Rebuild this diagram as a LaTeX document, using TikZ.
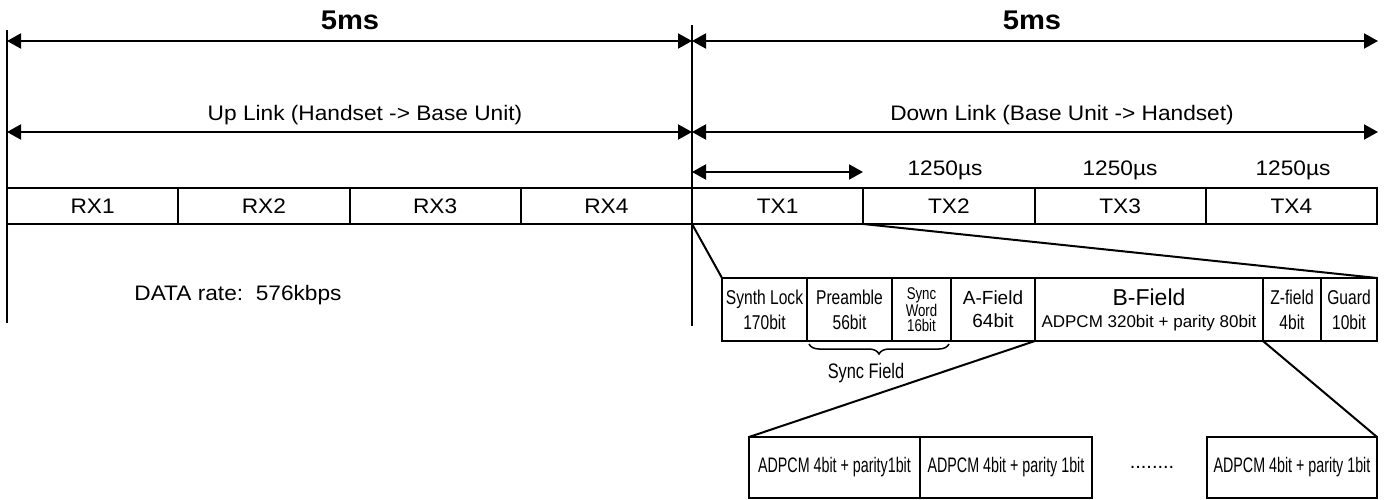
\documentclass[tikz,border=0pt]{standalone}
\usepackage{fontspec}
\setmainfont{Liberation Sans}[FakeStretch=1.08]
\newfontfamily\condfont{Liberation Sans}[FakeStretch=0.78]
\newfontfamily\narrowfont{Liberation Sans}[FakeStretch=0.68]
\newfontfamily\plainfont{Liberation Sans}
\usepackage{tikz}
\usetikzlibrary{positioning,arrows.meta,decorations.pathreplacing}
\tikzset{
  slot/.style={draw,line width=2pt,minimum width=171.25pt,minimum height=36pt,inner sep=0pt,outer sep=0pt,font=\fontsize{21}{25}\selectfont},
  fld/.style={draw,line width=2pt,minimum height=63pt,inner sep=0pt,outer sep=0pt,align=center,font=\condfont\fontsize{20}{25}\selectfont},
  sub/.style={draw,line width=2pt,minimum height=61pt,inner sep=0pt,outer sep=0pt,font=\narrowfont\fontsize{21}{24}\selectfont},
  dim/.style={{Triangle[length=14pt,width=15pt]}-{Triangle[length=14pt,width=15pt]},line width=2pt},
  thick line/.style={line width=2pt},
  lbl/.style={inner sep=0pt,font=\fontsize{21}{25}\selectfont},
  big/.style={inner sep=0pt,font=\bfseries\fontsize{27}{30}\selectfont},
}
\begin{document}
\begin{tikzpicture}[x=1pt,y=-1pt]
\useasboundingbox (0,0) rectangle (1385,500);
% frame lines
\coordinate (top left) at (7,30);
\coordinate (bot left) at (7,323);
\coordinate (top mid) at (692,25);
\coordinate (bot mid) at (692,326);
\draw[thick line] (top left) -- (bot left);
\draw[thick line] (top mid) -- (bot mid);
% 5ms arrows
\coordinate (t1) at (7,41);
\coordinate (t2) at (692,41);
\coordinate (t3) at (1378,41);
\draw[dim] (t1) -- (t2);
\draw[dim] (t2) -- (t3);
\node[big] (ms up) at (350,20) {5ms};
\node[big] (ms down) at (1032,20) {5ms};
% link arrows
\coordinate (l1) at (7,132);
\coordinate (l2) at (692,132);
\coordinate (l3) at (1378,132);
\draw[dim] (l1) -- (l2);
\draw[dim] (l2) -- (l3);
\node[lbl] (uplink) at (365,115) {Up Link (Handset -> Base Unit)};
\node[lbl] (downlink) at (1062,115) {Down Link (Base Unit -> Handset)};
% slots
\node[slot] (rx1) at (92.625,206) {RX1};
\node[slot,right=0pt of rx1] (rx2) {RX2};
\node[slot,right=0pt of rx2] (rx3) {RX3};
\node[slot,right=0pt of rx3] (rx4) {RX4};
\node[slot,right=0pt of rx4] (tx1) {TX1};
\node[slot,right=0pt of tx1] (tx2) {TX2};
\node[slot,right=0pt of tx2] (tx3) {TX3};
\node[slot,right=0pt of tx3] (tx4) {TX4};
\coordinate (s1) at (692,172);
\coordinate (s2) at (863,172);
\draw[dim] (s1) -- (s2);
\node[lbl] (us2) at (945,170) {1250µs};
\node[lbl] (us3) at (1120,170) {1250µs};
\node[lbl] (us4) at (1293,170) {1250µs};
\node[lbl] (rate) at (238,295) {DATA rate:\ \ 576kbps};
% burst fields
\node[fld,minimum width=85pt] (synth) at (764.5,309.5) {Synth Lock\\170bit};
\node[fld,minimum width=85pt,right=0pt of synth] (pream) {Preamble\\56bit};
\node[fld,minimum width=59pt,right=0pt of pream,font=\condfont\fontsize{17}{15}\selectfont] (sword) {Sync\\Word\\16bit};
\node[fld,minimum width=84pt,right=0pt of sword,font=\plainfont\fontsize{19}{23}\selectfont] (afield) {A-Field\\64bit};
\node[fld,minimum width=228pt,right=0pt of afield,font=\plainfont\fontsize{17}{22}\selectfont] (bfield) {{\fontsize{23}{22}\selectfont B-Field}\\ADPCM 320bit + parity 80bit};
\node[fld,minimum width=58pt,right=0pt of bfield] (zfield) {Z-field\\4bit};
\node[fld,minimum width=56pt,right=0pt of zfield] (guard) {Guard\\10bit};
\draw[thick line] (tx1.south west) -- (synth.north west);
\draw[thick line] (tx2.south west) -- (guard.north east);
\draw[line width=1.5pt,decorate,decoration={brace,mirror,amplitude=10pt}]
  ([xshift=2pt,yshift=-3pt]pream.south west) -- ([xshift=-2pt,yshift=-3pt]sword.south east);
\node[inner sep=0pt,font=\condfont\fontsize{21}{24}\selectfont] (syncfield) at (866,373) {Sync Field};
% B-field blocks
\node[sub,minimum width=171pt] (ad1) at (834.5,467.5) {ADPCM 4bit + parity1bit};
\node[sub,minimum width=172pt,right=0pt of ad1] (ad2) {ADPCM 4bit + parity 1bit};
\node[sub,minimum width=170pt] (adn) at (1292,467.5) {ADPCM 4bit + parity 1bit};
\node[inner sep=0pt,font=\plainfont\fontsize{20}{24}\selectfont] (dots) at (1152,467) {........};
\draw[thick line] (bfield.south west) -- (ad1.north west);
\draw[thick line] (zfield.south west) -- (adn.north east);
\end{tikzpicture}
\end{document}
